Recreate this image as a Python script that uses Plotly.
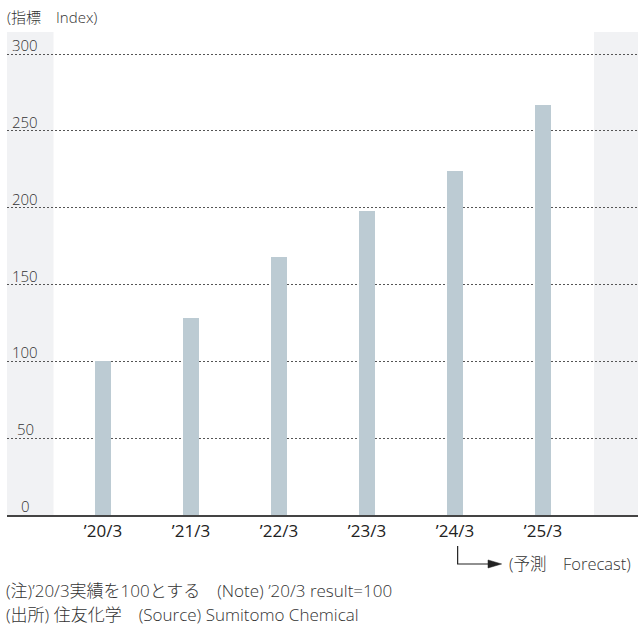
import plotly.graph_objects as go

categories = ["’20/3", "’21/3", "’22/3", "’23/3", "’24/3", "’25/3"]
index_values = [100, 128, 168, 198, 224, 267]
y_ticks = [0, 50, 100, 150, 200, 250, 300]

title_text = "(指標　Index)"
forecast_text = "(予測　Forecast)"
note_text = "(注)’20/3実績を100とする　(Note) ’20/3 result=100"
source_text = "(出所) 住友化学　(Source) Sumitomo Chemical"

FONT = "Open Sans, Noto Sans CJK JP, sans-serif"
TXT = "#333333"
W = 300

xpos = list(range(len(categories)))

fig = go.Figure()
fig.add_trace(go.Bar(
    x=xpos, y=index_values, width=0.176,
    marker=dict(color="#bccbd3", line=dict(width=0)),
    hoverinfo="skip",
))

shapes = [
    # shaded side bands
    dict(type="rect", xref="paper", yref="paper", x0=0, x1=(53.5 - 7) / 631, y0=0, y1=1,
         fillcolor="#f1f2f4", line=dict(width=0), layer="below"),
    dict(type="rect", xref="paper", yref="paper", x0=(594 - 7) / 631, x1=1, y0=0, y1=1,
         fillcolor="#f1f2f4", line=dict(width=0), layer="below"),
    # forecast arrow
    dict(type="path", xref="x", yref="paper",
         path="M 4.03,-0.0642 L 4.03,-0.1014 L 4.40,-0.1014",
         line=dict(color="#222222", width=1.2)),
    dict(type="path", xref="x", yref="paper",
         path="M 4.375,-0.0931 L 4.53,-0.1014 L 4.375,-0.1097 Z",
         fillcolor="#222222", line=dict(color="#222222", width=0.5)),
]

annotations = []
for v in y_ticks:
    annotations.append(dict(
        xref="paper", yref="y", x=(25 - 7) / 631, y=v, text=str(v),
        showarrow=False, xanchor="center", yanchor="middle", yshift=9,
        font=dict(family=FONT, size=15, color=TXT, weight=W)))

annotations += [
    dict(xref="paper", yref="paper", x=0, y=1, yshift=15, xshift=-2, text=title_text,
         showarrow=False, xanchor="left", yanchor="middle",
         font=dict(family=FONT, size=15, color=TXT, weight=W)),
    dict(xref="x", yref="paper", x=4.59, y=-0.1014, text=forecast_text,
         showarrow=False, xanchor="left", yanchor="middle",
         font=dict(family=FONT, size=16.5, color=TXT, weight=W)),
    dict(xref="paper", yref="paper", x=0, y=-(590 - 515) / 483, xshift=-3, text=note_text,
         showarrow=False, xanchor="left", yanchor="middle",
         font=dict(family=FONT, size=17, color=TXT, weight=W)),
    dict(xref="paper", yref="paper", x=0, y=-(614 - 515) / 483, xshift=-3, text=source_text,
         showarrow=False, xanchor="left", yanchor="middle",
         font=dict(family=FONT, size=17, color=TXT, weight=W)),
]

fig.update_layout(
    width=638, height=626,
    margin=dict(l=7, r=0, t=32, b=111, pad=0),
    paper_bgcolor="white", plot_bgcolor="rgba(0,0,0,0)",
    showlegend=False,
    shapes=shapes, annotations=annotations,
    bargap=0,
)
fig.update_xaxes(
    range=[(7 - 103) / 88, (638 - 103) / 88],
    tickvals=xpos, ticktext=categories,
    tickfont=dict(family=FONT, size=17, color="#222222", weight=400),
    showgrid=False, zeroline=False,
    showline=True, linecolor="#444444", linewidth=2,
    ticks="", fixedrange=True,
)
fig.update_yaxes(
    range=[0, 483 / (461 / 300)],
    tickvals=y_ticks[1:], showticklabels=False,
    showgrid=True, gridcolor="#555555", gridwidth=1, griddash="1.5px,2.5px",
    zeroline=False, showline=False, ticks="", fixedrange=True,
)

fig.write_html(
    "out.html",
    config={"displayModeBar": False},
    post_script="document.body.style.margin='0';document.body.style.overflow='hidden';",
)
